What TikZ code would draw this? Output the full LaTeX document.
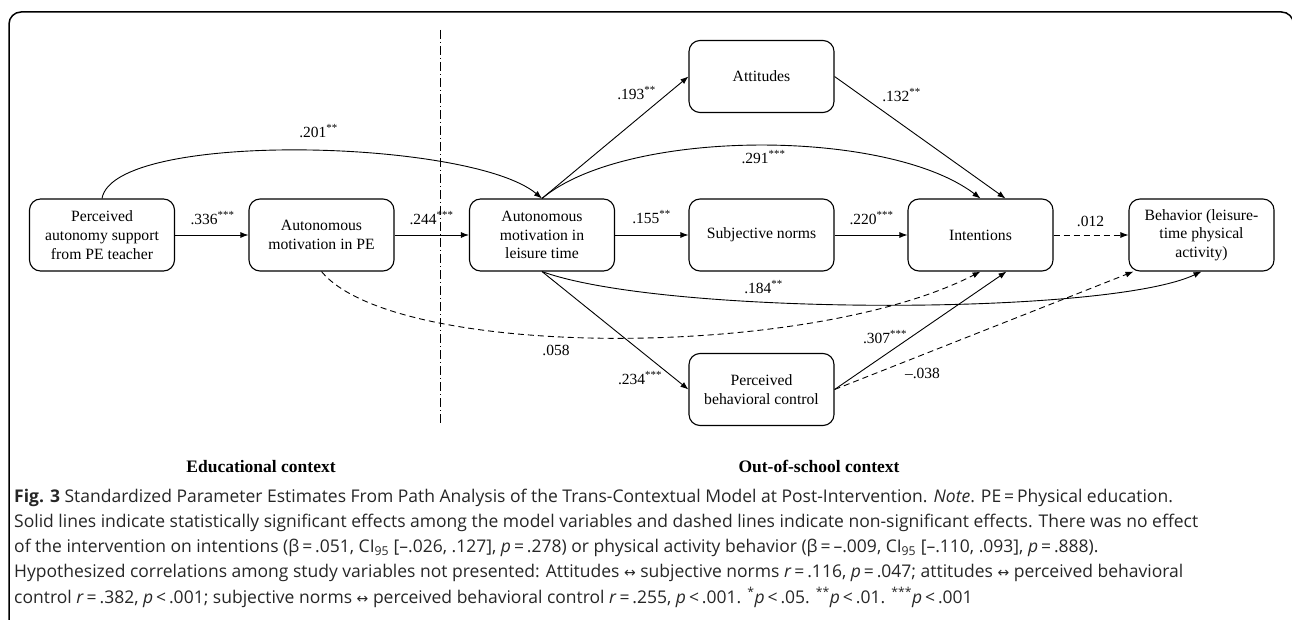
\documentclass[tikz,border=0pt]{standalone}
\usepackage{fontspec}
\setmainfont{Liberation Serif}
\newfontfamily\capfont{Open Sans}
\newfontfamily\symfont{DejaVu Sans}
\usetikzlibrary{arrows.meta}
\newcommand{\st}[1]{\textsuperscript{#1}}
\newcommand{\lra}{{\symfont\fontsize{14}{16}\selectfont ↔}}
\begin{document}
\begin{tikzpicture}[x=1pt,y=-1pt,
  box/.style={draw, line width=1.1pt, rounded corners=11pt, minimum width=145pt, minimum height=72pt, align=center, inner sep=2pt, font=\fontsize{15.7}{18.7}\selectfont},
  lbl/.style={font=\fontsize{15.5}{17}\selectfont, inner sep=0pt},
  arr/.style={line width=0.9pt, -{Latex[length=8pt,width=6pt]}},
  nsarr/.style={arr, dash pattern=on 6pt off 4pt},
  divider/.style={line width=0.9pt, dash pattern=on 9pt off 3pt on 1pt off 3pt},
  ctx/.style={font=\bfseries\fontsize{17.5}{20}\selectfont, inner sep=0pt, anchor=base},
  captxt/.style={font=\capfont\fontsize{17.5}{22}\selectfont, anchor=base west, inner sep=0pt, text=black!85}
]
\useasboundingbox (0,0) rectangle (1292,620);
\draw[line width=1.5pt, rounded corners=12pt] (9,660) -- (9,12) -- (1293.5,12) -- (1293.5,660);

% divider
\coordinate (dt) at (440,30);
\coordinate (db) at (440,426);
\draw[divider] (dt) -- (db);

% nodes
\node[box] (pas)  at (102,235)    {Perceived\\autonomy support\\from PE teacher};
\node[box] (ampe) at (321.5,235)  {Autonomous\\motivation in PE};
\node[box] (amlt) at (542,235)    {Autonomous\\motivation in\\leisure time};
\node[box] (att)  at (761.5,76.5) {Attitudes};
\node[box] (sn)   at (761.5,235)  {Subjective norms};
\node[box] (int)  at (980.5,235)  {Intentions};
\node[box] (beh)  at (1201.5,235) {Behavior (leisure-\\time physical\\activity)};
\node[box] (pbc)  at (761.5,389.5){Perceived\\behavioral control};

% connectors
\draw[arr] (pas) -- (ampe);
\draw[arr] (ampe) -- (amlt);
\draw[arr] (amlt) -- (sn);
\draw[arr] (sn) -- (int);
\draw[nsarr] (int) -- (beh);
\draw[arr] (pas.north) .. controls (114,130) and (471,139) .. (amlt.north);
\draw[arr] (amlt.north) -- (att.west);
\draw[arr] (amlt.north) .. controls (626,128) and (888,128) .. (int.north);
\draw[arr] (att.east) -- ([xshift=25pt]int.north);
\draw[arr] (amlt.south) .. controls (664,316) and (1107,316) .. (beh.south);
\draw[arr] (amlt.south) -- (pbc.west);
\draw[nsarr] (ampe.south) .. controls (395,360) and (809,360) .. (int.south);
\draw[arr] (pbc.east) -- ([xshift=26pt]int.south);
\draw[nsarr] (pbc.east) -- ([xshift=-68pt]beh.south);

% labels
\node[lbl] (l336) at (212.5,218) {.336\st{***}};
\node[lbl] (l244) at (431.5,218) {.244\st{***}};
\node[lbl] (l201) at (318.5,131) {.201\st{**}};
\node[lbl] (l193) at (636.5,93)  {.193\st{**}};
\node[lbl] (l291) at (763.5,157) {.291\st{***}};
\node[lbl] (l155) at (651.5,217) {.155\st{**}};
\node[lbl] (l220) at (871.5,218) {.220\st{***}};
\node[lbl] (l132) at (901.5,95)  {.132\st{**}};
\node[lbl] (l012) at (1090.5,221){.012};
\node[lbl] (l184) at (763.5,287) {.184\st{**}};
\node[lbl] (l058) at (556,350)   {.058};
\node[lbl] (l234) at (640,378)   {.234\st{***}};
\node[lbl] (l307) at (885,337)   {.307\st{***}};
\node[lbl] (l038) at (922.5,373) {–.038};

% context titles
\node[ctx] (edu) at (261,472) {Educational context};
\node[ctx] (out) at (819,472) {Out-of-school context};

% caption
\node[captxt] (c1) at (14,502) {\textbf{Fig. 3} Standardized Parameter Estimates From Path Analysis of the Trans-Contextual Model at Post-Intervention. \textit{Note}. PE\,=\,Physical education.};
\node[captxt] (c2) at (14,527.25) {Solid lines indicate statistically significant effects among the model variables and dashed lines indicate non-significant effects. There was no effect};
\node[captxt] (c3) at (14,552.5) {of the intervention on intentions (β\,=\,.051, CI\textsubscript{95} [–.026, .127], \textit{p}\,=\,.278) or physical activity behavior (β\,=\,–.009, CI\textsubscript{95} [–.110, .093], \textit{p}\,=\,.888).};
\node[captxt] (c4) at (14,577.75) {Hypothesized correlations among study variables not presented: Attitudes \lra{} subjective norms \textit{r}\,=\,.116, \textit{p}\,=\,.047; attitudes \lra{} perceived behavioral};
\node[captxt] (c5) at (14,603) {control \textit{r}\,=\,.382, \textit{p}\,<\,.001; subjective norms \lra{} perceived behavioral control \textit{r}\,=\,.255, \textit{p}\,<\,.001. \textsuperscript{*}\textit{p}\,<\,.05. \textsuperscript{**}\textit{p}\,<\,.01. \textsuperscript{***}\textit{p}\,<\,.001};
\end{tikzpicture}
\end{document}
